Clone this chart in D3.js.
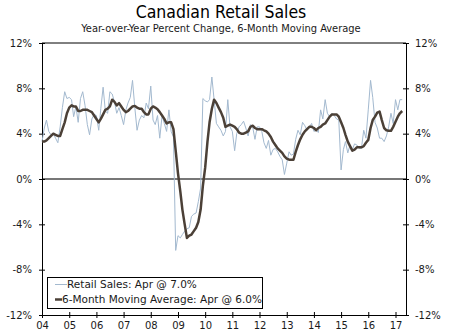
<!DOCTYPE html>
<html>
<head>
<meta charset="utf-8">
<script src="https://cdn.jsdelivr.net/npm/d3@7"></script>
<style>
  body { margin: 0; background: #fff; }
  svg text { font-family: "DejaVu Sans", sans-serif; fill: #1a1a1a; }
  svg text.cond { font-family: "DejaVu Sans Condensed", "DejaVu Sans", sans-serif; }
</style>
</head>
<body>
<div id="chart"></div>
<script>
// monthly, Jan 2004 - Apr 2017
const startYear = 2004;

const retailSales = [
  3.3, 4.5, 5.2, 4.2, 3.9, 4.0, 3.6, 3.2, 4.6, 6.3, 7.7, 7.1,
  7.2, 7.0, 5.5, 6.4, 5.0, 7.1, 7.7, 6.5, 4.8, 3.9, 5.3, 5.7,
  5.6, 4.3, 6.2, 8.1, 6.0, 5.8, 7.7, 7.5, 6.8, 5.8, 6.3, 5.6,
  4.8, 6.1, 6.7, 7.2, 8.7, 6.3, 4.3, 5.2, 5.6, 5.4, 6.7, 6.2,
  8.2, 5.2, 4.8, 5.6, 3.6, 5.6, 4.9, 4.2, 6.1, 4.2, 3.7, -6.3,
  -5.0, -5.2, -4.9, -4.6, -4.4, -4.3, -3.3, -3.1, -3.0, -2.0, -0.8, 7.1,
  6.9, 6.8, 7.0, 9.0, 7.0, 4.9, 4.6, 4.3, 3.8, 4.2, 7.0, 4.6,
  4.2, 2.5, 4.0, 4.6, 4.8, 5.1, 4.5, 3.8, 4.8, 4.6, 3.5, 4.6,
  4.6, 4.2, 3.2, 2.7, 3.4, 2.1, 2.6, 2.7, 2.4, 2.0, 1.7, 0.4,
  1.4, 2.4, 2.1, 2.2, 3.5, 4.3, 3.9, 5.0, 4.7, 4.3, 4.6, 4.9,
  4.2, 4.3, 4.1, 6.1, 5.3, 7.0, 5.8, 5.5, 5.8, 5.6, 5.3, 5.2,
  0.8, 2.6, 3.3, 2.3, 3.0, 2.6, 3.1, 3.0, 2.7, 2.7, 4.3, 3.6,
  6.1, 8.7, 7.2, 5.0, 4.5, 3.6, 3.6, 3.3, 3.8, 4.6, 5.8, 4.9,
  7.0, 6.1, 7.0, 7.0
];

const movingAverage = [
  3.3, 3.3, 3.4, 3.6, 3.8, 4.0, 3.9, 3.8, 3.8, 4.4, 5.0, 5.8,
  6.3, 6.5, 6.4, 6.4, 6.0, 6.0, 6.1, 6.1, 6.1, 6.0, 5.9, 5.6,
  5.3, 5.0, 5.3, 5.7, 6.1, 6.2, 6.4, 7.0, 6.8, 6.5, 6.7, 6.4,
  6.1, 5.9, 6.0, 6.2, 6.4, 6.45, 6.3, 6.2, 6.2, 5.9, 5.7, 5.7,
  6.2, 6.4, 6.3, 6.15, 5.9, 5.6, 5.3, 4.9, 5.0, 5.0, 4.4, 2.5,
  0.5, -1.1, -2.7, -4.0, -5.2, -5.0, -4.9, -4.6, -4.3, -3.8, -2.7, -0.6,
  1.0, 3.3, 5.0, 6.2, 7.0, 6.7, 6.3, 5.9, 5.4, 4.6, 4.7, 4.8,
  4.7, 4.6, 4.4, 4.1, 4.0, 4.0, 4.1, 4.2, 4.6, 4.7, 4.5, 4.4,
  4.4, 4.4, 4.3, 4.2, 4.0, 3.7, 3.3, 3.0, 2.7, 2.5, 2.3, 2.0,
  1.8, 1.7, 1.7, 1.7, 2.4, 3.0, 3.5, 3.9, 4.2, 4.4, 4.6, 4.6,
  4.5, 4.3, 4.5, 4.6, 4.8, 4.9, 5.2, 5.5, 5.7, 5.7, 5.7, 5.5,
  5.0, 4.5, 3.9, 3.3, 2.9, 2.5, 2.6, 2.8, 2.8, 2.8, 2.9, 3.2,
  3.45, 4.5, 5.2, 5.5, 5.85, 5.95, 5.2, 4.5, 4.3, 4.25, 4.25, 4.6,
  5.05, 5.5, 5.8, 6.0
];

const yTicks = [-12, -8, -4, 0, 4, 8, 12];
const legendLabels = [
  "Retail Sales: Apr @ 7.0%",
  "6-Month Moving Average: Apr @ 6.0%"
];

const width = 450;
const height = 335;
const plot = { left: 42, right: 406, top: 43, bottom: 315 };

const dates = retailSales.map((_, i) => new Date(startYear, i, 1));

const svg = d3.select("#chart")
  .append("svg")
  .attr("width", width)
  .attr("height", height);

const x = d3.scaleTime()
  .domain([new Date(2004, 0, 1), new Date(2017, 4, 22)])
  .range([plot.left, plot.right]);

const y = d3.scaleLinear()
  .domain([-12, 12])
  .range([plot.bottom, plot.top]);

// titles
svg.append("text")
  .attr("class", "cond")
  .attr("x", 221)
  .attr("y", 18)
  .attr("text-anchor", "middle")
  .style("font-size", "17.5px")
  .style("fill", "#000")
  .text("Canadian Retail Sales");

svg.append("text")
  .attr("class", "cond")
  .attr("x", 221)
  .attr("y", 32)
  .attr("text-anchor", "middle")
  .style("font-size", "11px")
  .text("Year-over-Year Percent Change, 6-Month Moving Average");

// frame top
svg.append("line")
  .attr("x1", plot.left).attr("x2", plot.right)
  .attr("y1", plot.top).attr("y2", plot.top)
  .attr("stroke", "#000");

// zero line
svg.append("line")
  .attr("x1", plot.left).attr("x2", plot.right)
  .attr("y1", y(0)).attr("y2", y(0))
  .attr("stroke", "#777")
  .attr("stroke-width", 2);

const fmtPct = d => d + "%";

const leftAxis = svg.append("g")
  .attr("transform", `translate(${plot.left},0)`)
  .call(d3.axisLeft(y).tickValues(yTicks).tickFormat(fmtPct).tickSizeInner(3).tickSizeOuter(0).tickPadding(7));

const rightAxis = svg.append("g")
  .attr("transform", `translate(${plot.right},0)`)
  .call(d3.axisRight(y).tickValues(yTicks).tickFormat(fmtPct).tickSizeInner(3).tickSizeOuter(0).tickPadding(6));

const bottomAxis = svg.append("g")
  .attr("transform", `translate(0,${plot.bottom})`)
  .call(d3.axisBottom(x).ticks(d3.timeYear.every(1)).tickFormat(d3.timeFormat("%y")).tickSizeInner(3).tickSizeOuter(0).tickPadding(4));

// ticks cross the axis lines
leftAxis.selectAll(".tick line").attr("x1", -3).attr("x2", 3);
rightAxis.selectAll(".tick line").attr("x1", -3).attr("x2", 3);
bottomAxis.selectAll(".tick line").attr("y1", -3).attr("y2", 3);

[leftAxis, rightAxis, bottomAxis].forEach(g => {
  g.attr("font-family", null).attr("font-size", null);
  g.selectAll("text").style("font-size", "10px").style("fill", "#1a1a1a");
  g.select(".domain").attr("stroke", "#000");
  g.selectAll(".tick line").attr("stroke", "#000");
});

// series
const line = d3.line()
  .x((d, i) => x(dates[i]))
  .y(d => y(d));

svg.append("path")
  .datum(retailSales)
  .attr("fill", "none")
  .attr("stroke", "#a3b9cf")
  .attr("stroke-width", 1)
  .attr("d", line);

svg.append("path")
  .datum(movingAverage)
  .attr("fill", "none")
  .attr("stroke", "#4b4037")
  .attr("stroke-width", 2.5)
  .attr("stroke-linejoin", "round")
  .attr("d", line);

// legend
const legend = svg.append("g");

legend.append("rect")
  .attr("x", 47.5).attr("y", 277.5)
  .attr("width", 215).attr("height", 31)
  .attr("fill", "#fff")
  .attr("stroke", "#000");

const legendStyles = [
  { stroke: "#a3b9cf", width: 1, len: 12 },
  { stroke: "#4b4037", width: 2.5, len: 7 }
];

legendLabels.forEach((label, i) => {
  const ly = 284.5 + i * 15;
  legend.append("line")
    .attr("x1", 55).attr("x2", 55 + legendStyles[i].len)
    .attr("y1", ly).attr("y2", ly)
    .attr("stroke", legendStyles[i].stroke)
    .attr("stroke-width", legendStyles[i].width);
  legend.append("text")
    .attr("x", 55 + legendStyles[i].len)
    .attr("y", ly + 3.5)
    .style("font-size", "10.5px")
    .text(label);
});
</script>
</body>
</html>
